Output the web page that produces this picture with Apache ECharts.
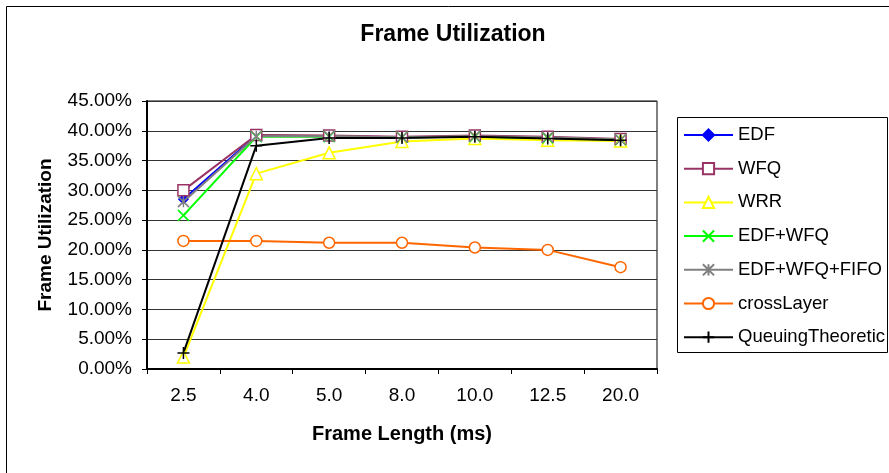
<!DOCTYPE html>
<html>
<head>
<meta charset="utf-8">
<script src="https://cdn.jsdelivr.net/npm/echarts@6/dist/echarts.min.js"></script>
<style>
html,body{margin:0;padding:0;background:#fff;}
#c{width:889px;height:473px;}
</style>
</head>
<body>
<div id="c"></div>
<script>
var categories = ['2.5', '4.0', '5.0', '8.0', '10.0', '12.5', '20.0'];
var edf = [0.285, 0.392, 0.391, 0.389, 0.390, 0.388, 0.385];
var wfq = [0.300, 0.393, 0.392, 0.390, 0.392, 0.390, 0.386];
var wrr = [0.020, 0.328, 0.363, 0.382, 0.387, 0.384, 0.383];
var edfWfq = [0.258, 0.390, 0.390, 0.389, 0.390, 0.388, 0.385];
var edfWfqFifo = [0.281, 0.391, 0.391, 0.389, 0.391, 0.389, 0.385];
var crossLayer = [0.215, 0.215, 0.212, 0.212, 0.204, 0.200, 0.171];
var queuing = [0.027, 0.375, 0.388, 0.388, 0.390, 0.387, 0.384];
var yTicks = [0, 0.05, 0.10, 0.15, 0.20, 0.25, 0.30, 0.35, 0.40, 0.45];

var FONT = '"Liberation Sans", Arial, sans-serif';
var crossPath = 'path://M0,0L10,10M10,0L0,10';
var starPath = 'path://M5,0L5,10M0,0L10,10M10,0L0,10';
var plusPath = 'path://M5,0L5,10M0,5L10,5';

function mk(name, data, color, symbol, size, fill) {
  return {
    name: name, type: 'line', data: data,
    symbol: symbol, symbolSize: size, showAllSymbol: true,
    lineStyle: {color: color, width: 2},
    itemStyle: {color: fill, borderColor: color, borderWidth: 1.5},
    emphasis: {disabled: true},
    animation: false
  };
}

var chart = echarts.init(document.getElementById('c'), null, {renderer: 'canvas'});
chart.setOption({
  backgroundColor: '#fff',
  animation: false,
  title: {
    text: 'Frame Utilization', left: 453, top: 23, textAlign: 'center', padding: 0,
    textStyle: {fontFamily: FONT, fontSize: 23, fontWeight: 'bold', color: '#000'}
  },
  graphic: [
    {type: 'rect', left: 4, top: 4, shape: {width: 900, height: 467}, style: {fill: null, stroke: '#000', lineWidth: 1}, z: -1},
    {type: 'rect', left: 677, top: 117, shape: {width: 210, height: 235}, style: {fill: '#fff', stroke: '#000', lineWidth: 1}, z: 0}
  ],
  legend: {
    orient: 'vertical', left: 683, top: 125, padding: 0,
    itemWidth: 49, itemHeight: 14, itemGap: 13.7,
    textStyle: {fontFamily: FONT, fontSize: 18.5, color: '#000', lineHeight: 20},
    z: 5,
    data: ['EDF', 'WFQ', 'WRR', 'EDF+WFQ', 'EDF+WFQ+FIFO', 'crossLayer', 'QueuingTheoretic']
  },
  grid: {left: 147, right: 232, top: 101, bottom: 104, show: true, borderColor: '#000', borderWidth: 1, backgroundColor: '#fff'},
  xAxis: {
    type: 'category', data: categories, boundaryGap: true,
    name: 'Frame Length (ms)', nameLocation: 'middle', nameGap: 55,
    nameTextStyle: {fontFamily: FONT, fontSize: 20, fontWeight: 'bold', color: '#000'},
    axisLine: {lineStyle: {color: '#000', width: 2}},
    axisTick: {show: true, interval: 0, length: 5, lineStyle: {color: '#000'}},
    axisLabel: {fontFamily: FONT, fontSize: 19, color: '#000', margin: 17, interval: 0},
    splitLine: {show: false}
  },
  yAxis: {
    type: 'value', min: 0, max: 0.45, interval: 0.05,
    name: 'Frame Utilization', nameLocation: 'middle', nameGap: 92,
    nameTextStyle: {fontFamily: FONT, fontSize: 19, fontWeight: 'bold', color: '#000'},
    axisLine: {show: true, lineStyle: {color: '#000', width: 2}},
    axisTick: {show: true, length: 5, lineStyle: {color: '#000'}},
    axisLabel: {fontFamily: FONT, fontSize: 19, color: '#000', margin: 15,
      formatter: function (v) { return (v * 100).toFixed(2) + '%'; }},
    splitLine: {show: true, lineStyle: {color: '#333', width: 1}}
  },
  series: [
    mk('EDF', edf, '#0000ff', 'diamond', 9, '#0000ff'),
    mk('WFQ', wfq, '#993366', 'rect', 11, '#fff'),
    mk('WRR', wrr, '#ffff00', 'triangle', 12, '#fff'),
    mk('EDF+WFQ', edfWfq, '#00ff00', crossPath, 11, 'none'),
    mk('EDF+WFQ+FIFO', edfWfqFifo, '#808080', starPath, 11, 'none'),
    mk('crossLayer', crossLayer, '#ff6600', 'circle', 11, '#fff'),
    mk('QueuingTheoretic', queuing, '#000000', plusPath, 12, 'none')
  ]
});
</script>
</body>
</html>
